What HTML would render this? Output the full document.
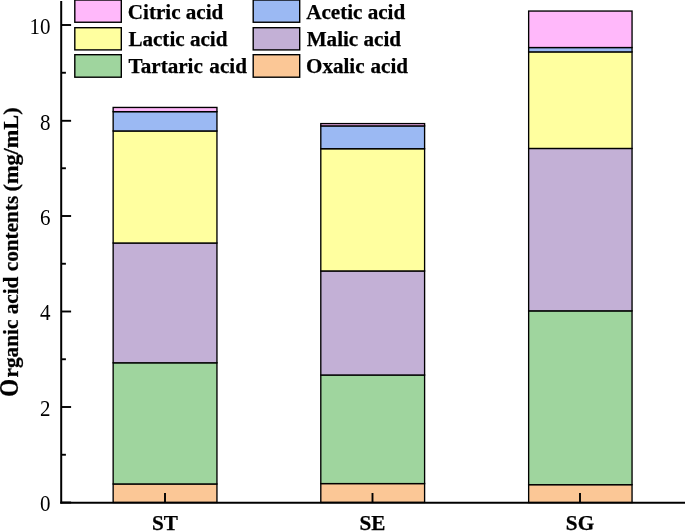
<!DOCTYPE html>
<html><head><meta charset="utf-8"><title>Organic acid contents</title>
<style>
html,body{margin:0;padding:0;background:#fff;}
body{width:685px;height:531px;overflow:hidden;}
text{font-family:"Liberation Serif","Times New Roman",serif;fill:#000;}
.b{font-weight:bold;stroke:#000;stroke-width:0.25px;}
.r{font-weight:normal;}
</style></head><body>
<svg width="685" height="531" viewBox="0 0 685 531" style="display:block">
<rect width="685" height="531" fill="#fff"/>
<rect x="113.15" y="484" width="103.8" height="18.5" fill="#FBC796" stroke="#000" stroke-width="1.35"/>
<rect x="113.15" y="362.75" width="103.8" height="121.2" fill="#9FD59E" stroke="#000" stroke-width="1.35"/>
<rect x="113.15" y="243.0" width="103.8" height="119.8" fill="#C3B0D6" stroke="#000" stroke-width="1.35"/>
<rect x="113.15" y="131" width="103.8" height="112.0" fill="#FFFF9F" stroke="#000" stroke-width="1.35"/>
<rect x="113.15" y="111.65" width="103.8" height="19.3" fill="#9BB9F3" stroke="#000" stroke-width="1.35"/>
<rect x="113.15" y="107.45" width="103.8" height="4.2" fill="#FFB8FA" stroke="#000" stroke-width="1.35"/>
<rect x="320.8" y="483.55" width="103.8" height="18.9" fill="#FBC796" stroke="#000" stroke-width="1.35"/>
<rect x="320.8" y="375" width="103.8" height="108.6" fill="#9FD59E" stroke="#000" stroke-width="1.35"/>
<rect x="320.8" y="271" width="103.8" height="104.0" fill="#C3B0D6" stroke="#000" stroke-width="1.35"/>
<rect x="320.8" y="148.75" width="103.8" height="122.2" fill="#FFFF9F" stroke="#000" stroke-width="1.35"/>
<rect x="320.8" y="125.9" width="103.8" height="22.8" fill="#9BB9F3" stroke="#000" stroke-width="1.35"/>
<rect x="320.8" y="123.6" width="103.8" height="2.3" fill="#FFB8FA" stroke="#000" stroke-width="1.35"/>
<rect x="528.65" y="484.65" width="103.4" height="17.9" fill="#FBC796" stroke="#000" stroke-width="1.35"/>
<rect x="528.65" y="310.9" width="103.4" height="173.8" fill="#9FD59E" stroke="#000" stroke-width="1.35"/>
<rect x="528.65" y="148.45" width="103.4" height="162.4" fill="#C3B0D6" stroke="#000" stroke-width="1.35"/>
<rect x="528.65" y="51.85" width="103.4" height="96.6" fill="#FFFF9F" stroke="#000" stroke-width="1.35"/>
<rect x="528.65" y="47.5" width="103.4" height="4.4" fill="#9BB9F3" stroke="#000" stroke-width="1.35"/>
<rect x="528.65" y="11.05" width="103.4" height="36.5" fill="#FFB8FA" stroke="#000" stroke-width="1.35"/>
<line x1="61.2" y1="1" x2="61.2" y2="503.5" stroke="#000" stroke-width="2"/>
<line x1="60.2" y1="502.65" x2="685" y2="502.65" stroke="#000" stroke-width="2"/>
<line x1="61.2" y1="502.5" x2="71.10000000000001" y2="502.5" stroke="#000" stroke-width="1.9"/>
<line x1="61.2" y1="454.75" x2="65.9" y2="454.75" stroke="#000" stroke-width="1.9"/>
<line x1="61.2" y1="407.0" x2="71.10000000000001" y2="407.0" stroke="#000" stroke-width="1.9"/>
<line x1="61.2" y1="359.25" x2="65.9" y2="359.25" stroke="#000" stroke-width="1.9"/>
<line x1="61.2" y1="311.5" x2="71.10000000000001" y2="311.5" stroke="#000" stroke-width="1.9"/>
<line x1="61.2" y1="263.75" x2="65.9" y2="263.75" stroke="#000" stroke-width="1.9"/>
<line x1="61.2" y1="216.0" x2="71.10000000000001" y2="216.0" stroke="#000" stroke-width="1.9"/>
<line x1="61.2" y1="168.25" x2="65.9" y2="168.25" stroke="#000" stroke-width="1.9"/>
<line x1="61.2" y1="120.8" x2="71.10000000000001" y2="120.8" stroke="#000" stroke-width="1.9"/>
<line x1="61.2" y1="72.75" x2="65.9" y2="72.75" stroke="#000" stroke-width="1.9"/>
<line x1="61.2" y1="25.0" x2="71.10000000000001" y2="25.0" stroke="#000" stroke-width="1.9"/>
<line x1="165" y1="502.5" x2="165" y2="493.0" stroke="#000" stroke-width="1.9"/>
<line x1="372.5" y1="502.5" x2="372.5" y2="493.0" stroke="#000" stroke-width="1.9"/>
<line x1="580" y1="502.5" x2="580" y2="493.0" stroke="#000" stroke-width="1.9"/>
<text transform="translate(50.4,511.15) scale(1,1.075)" text-anchor="end" font-size="21" class="r">0</text>
<text transform="translate(50.4,416.10) scale(1,1.075)" text-anchor="end" font-size="21" class="r">2</text>
<text transform="translate(50.4,319.75) scale(1,1.075)" text-anchor="end" font-size="21" class="r">4</text>
<text transform="translate(50.4,225.10) scale(1,1.075)" text-anchor="end" font-size="21" class="r">6</text>
<text transform="translate(50.4,129.65) scale(1,1.075)" text-anchor="end" font-size="21" class="r">8</text>
<text transform="translate(50.4,34.10) scale(1,1.075)" text-anchor="end" font-size="21" class="r">10</text>
<text x="165" y="529.7" text-anchor="middle" font-size="21.2" class="b">ST</text>
<text x="372.5" y="529.7" text-anchor="middle" font-size="21.2" class="b">SE</text>
<text x="580" y="529.7" text-anchor="middle" font-size="21.2" class="b">SG</text>
<text transform="translate(18.4,396.8) rotate(-90) scale(1.08,1.24)" font-size="21.25" class="b">O</text>
<text transform="translate(18.1,377.5) rotate(-90)" font-size="21.25" class="b">rganic acid contents</text>
<text transform="translate(18.1,191.5) rotate(-90) scale(1.048,1)" font-size="21.25" class="b">(mg/mL)</text>
<rect x="74.8" y="0.0" width="46.50" height="22.25" fill="#FFB8FA" stroke="#000" stroke-width="1.4"/>
<text x="127.8" y="18.95" font-size="21.1" word-spacing="0" class="b">Citric acid</text>
<rect x="74.8" y="27.7" width="46.50" height="22.20" fill="#FFFF9F" stroke="#000" stroke-width="1.4"/>
<text x="128.4" y="45.6" font-size="21.1" word-spacing="0" class="b">Lactic acid</text>
<rect x="74.8" y="54.7" width="46.50" height="22.50" fill="#9FD59E" stroke="#000" stroke-width="1.4"/>
<text x="128.6" y="73.35" font-size="21.1" word-spacing="1.3" class="b">Tartaric acid</text>
<rect x="253.2" y="0.0" width="46.50" height="22.25" fill="#9BB9F3" stroke="#000" stroke-width="1.4"/>
<text x="306.2" y="18.95" font-size="21.1" word-spacing="0" class="b">Acetic acid</text>
<rect x="253.2" y="27.7" width="46.50" height="22.20" fill="#C3B0D6" stroke="#000" stroke-width="1.4"/>
<text x="306.7" y="45.6" font-size="21.1" word-spacing="0" class="b">Malic acid</text>
<rect x="253.2" y="54.7" width="46.50" height="22.50" fill="#FBC796" stroke="#000" stroke-width="1.4"/>
<text x="306.0" y="73.35" font-size="21.1" word-spacing="0.7" class="b">Oxalic acid</text>
</svg>
</body></html>
